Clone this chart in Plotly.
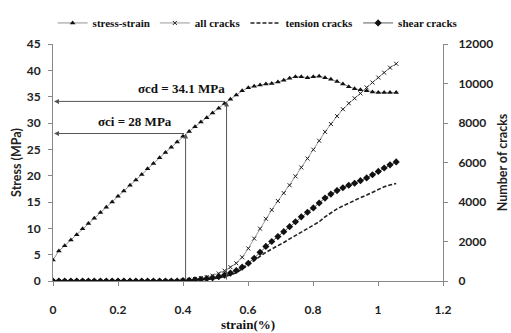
import plotly.graph_objects as go

strain = [0, 0.018, 0.036, 0.055, 0.073, 0.091, 0.109, 0.127, 0.146, 0.164,
          0.182, 0.2, 0.218, 0.237, 0.255, 0.273, 0.291, 0.309, 0.328, 0.346,
          0.364, 0.382, 0.4, 0.419, 0.437, 0.455, 0.473, 0.491, 0.51, 0.528,
          0.546, 0.564, 0.582, 0.601, 0.619, 0.637, 0.655, 0.673, 0.692, 0.71,
          0.728, 0.746, 0.764, 0.783, 0.801, 0.819, 0.837, 0.855, 0.874, 0.892,
          0.91, 0.928, 0.946, 0.965, 0.983, 1.001, 1.019, 1.037, 1.056]

stress = [4.0, 5.7, 6.7, 7.8, 8.8, 9.9, 10.9, 11.9, 13.0, 14.0,
          15.0, 16.1, 17.1, 18.2, 19.2, 20.2, 21.3, 22.3, 23.4, 24.4,
          25.4, 26.4, 27.5, 28.4, 29.3, 30.2, 31.0, 31.9, 32.8, 33.7,
          34.5, 35.3, 36.1, 36.7, 37.0, 37.2, 37.4, 37.5, 37.8, 38.1,
          38.5, 38.8, 38.8, 38.6, 38.8, 38.9, 38.6, 38.3, 37.9, 37.4,
          36.9, 36.5, 36.3, 36.1, 35.9, 35.8, 35.8, 35.8, 35.8]

all_cracks = [0] * 22 + [30, 60, 100, 150, 200, 270, 380, 520,
              700, 900, 1200, 1650, 2150, 2650, 3150, 3600, 4050, 4450,
              4850, 5300, 5750, 6200, 6650, 7100, 7550, 7950, 8350, 8700,
              9000, 9250, 9500, 9800, 10050, 10300, 10550, 10800, 11000]

tension_cracks = [0] * 22 + [10, 20, 40, 60, 80, 110, 160, 220,
                  300, 420, 600, 820, 1050, 1260, 1450, 1620, 1780, 1950,
                  2130, 2300, 2480, 2650, 2800, 3000, 3250, 3450, 3650, 3800,
                  3950, 4100, 4220, 4350, 4500, 4650, 4770, 4860, 4940]

shear_cracks = [0] * 22 + [20, 40, 60, 90, 120, 160, 220, 300,
                400, 530, 700, 900, 1150, 1450, 1750, 2000, 2250, 2500,
                2750, 3000, 3250, 3480, 3700, 3950, 4200, 4400, 4580, 4720,
                4850, 4950, 5080, 5220, 5380, 5550, 5720, 5880, 6030]

sigma_ci = 28.0
strain_ci = 0.408
sigma_cd = 34.1
strain_cd = 0.534

x_ticks = [0, 0.2, 0.4, 0.6, 0.8, 1, 1.2]
x_tick_text = ["0", "0.2", "0.4", "0.6", "0.8", "1", "1.2"]

tick_font = dict(family="Lato", size=12, color="#222", weight="bold")
serif_bold = dict(family="Liberation Serif", size=13, color="#111")

fig = go.Figure()
fig.add_trace(go.Scatter(
    x=strain, y=stress, name="<b>stress-strain</b>", mode="lines+markers",
    line=dict(color="#777", width=0.8),
    marker=dict(symbol="triangle-up", size=5, color="#111"),
))
fig.add_trace(go.Scatter(
    x=strain, y=all_cracks, name="<b>all cracks</b>", mode="lines+markers", yaxis="y2",
    line=dict(color="#999", width=1),
    marker=dict(symbol="x-thin", size=4, color="#222", line=dict(width=1, color="#222")),
))
fig.add_trace(go.Scatter(
    x=strain, y=tension_cracks, name="<b>tension cracks</b>", mode="lines", yaxis="y2",
    line=dict(color="#222", width=1.6, dash="4px,2px"),
))
fig.add_trace(go.Scatter(
    x=strain, y=shear_cracks, name="<b>shear cracks</b>", mode="lines+markers", yaxis="y2",
    line=dict(color="#333", width=0.8),
    marker=dict(symbol="diamond", size=5.5, color="#111"),
))

arrow = dict(showarrow=True, arrowhead=2, arrowsize=1, arrowwidth=1, arrowcolor="#555",
             axref="x", ayref="y", text="")
fig.add_annotation(x=0, y=sigma_cd, ax=strain_cd, ay=sigma_cd, standoff=1, **arrow)
fig.add_annotation(x=0, y=sigma_ci, ax=strain_ci, ay=sigma_ci, standoff=1, **arrow)
fig.add_annotation(x=strain_cd, y=sigma_cd, ax=strain_cd, ay=0, **arrow)
fig.add_annotation(x=strain_ci, y=sigma_ci, ax=strain_ci, ay=0, **arrow)

fig.add_annotation(x=strain_cd, y=sigma_cd, text="<b>σcd = 34.1 MPa</b>", showarrow=False,
                   xanchor="right", yanchor="bottom", yshift=3, font=serif_bold)
fig.add_annotation(x=strain_ci - 0.035, y=sigma_ci, text="<b>σci = 28 MPa</b>", showarrow=False,
                   xanchor="right", yanchor="bottom", yshift=3, font=serif_bold)

axis_common = dict(showgrid=False, zeroline=False, showline=True, linecolor="#888", linewidth=1,
                   ticks="outside", ticklen=4, tickcolor="#888", tickfont=tick_font,
                   automargin=False)

fig.update_layout(
    width=511, height=333,
    margin=dict(l=53, r=68, t=44, b=52, autoexpand=False),
    plot_bgcolor="white", paper_bgcolor="white",
    showlegend=True,
    legend=dict(orientation="h", x=-0.001, xanchor="left", xref="paper",
                y=1.15, yanchor="top", yref="paper",
                font=dict(family="Liberation Serif", size=11, color="#111"),
                itemwidth=30, tracegroupgap=0, bgcolor="rgba(0,0,0,0)"),
    xaxis=dict(range=[0, 1.2], tickvals=x_ticks, ticktext=x_tick_text,
               title=dict(text="<b>strain(%)</b>", font=dict(family="Liberation Serif", size=13, color="#111"),
                          standoff=1),
               ticklabelstandoff=14, **axis_common),
    yaxis=dict(range=[0, 45], dtick=5,
               title=dict(text="<b>Stress (MPa)</b>", font=dict(family="Lato", size=12.5, color="#222"),
                          standoff=2),
               ticklabelstandoff=5, **axis_common),
    yaxis2=dict(range=[0, 12000], dtick=2000, overlaying="y", side="right", tickformat="d",
                title=dict(text="<b>Number of cracks</b>", font=dict(family="Lato", size=12.5, color="#222"),
                           standoff=6),
                ticklabelstandoff=8, **axis_common),
)

fig.write_html("out.html")
